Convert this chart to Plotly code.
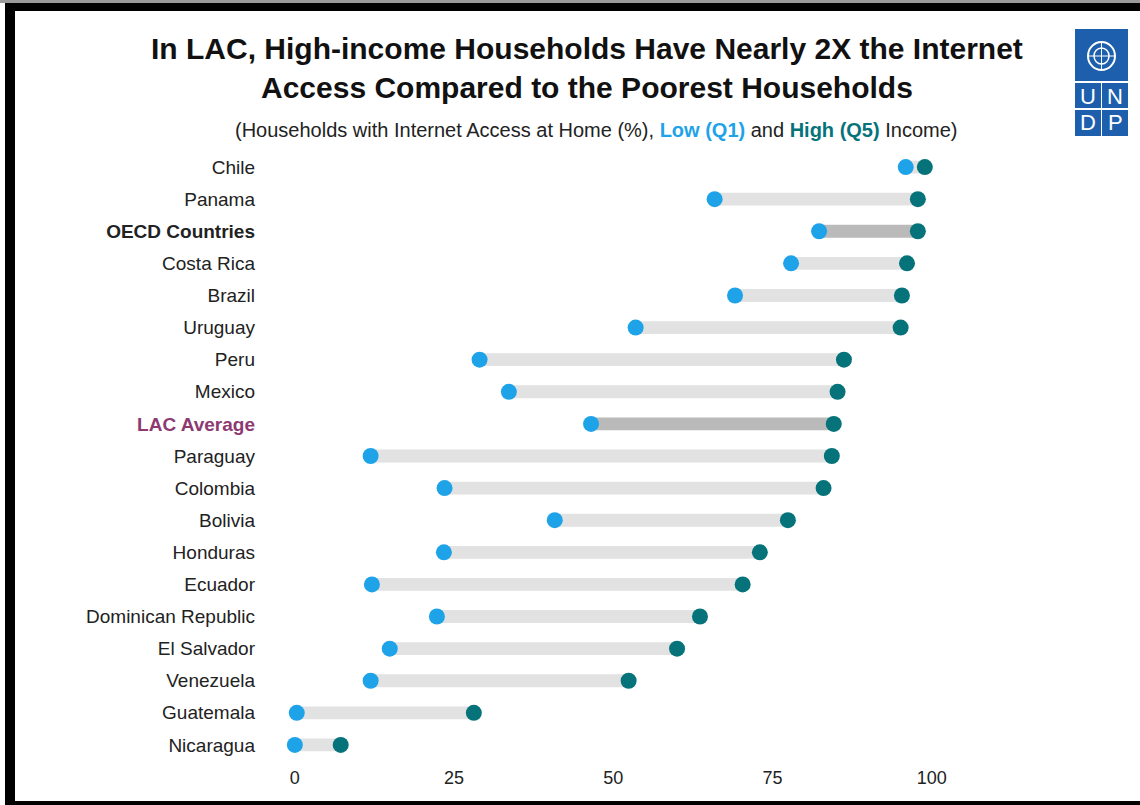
import plotly.graph_objects as go

countries = ["Chile", "Panama", "OECD Countries", "Costa Rica", "Brazil", "Uruguay", "Peru",
             "Mexico", "LAC Average", "Paraguay", "Colombia", "Bolivia", "Honduras", "Ecuador",
             "Dominican Republic", "El Salvador", "Venezuela", "Guatemala", "Nicaragua"]
low_q1 = [95.9, 65.9, 82.3, 77.9, 69.1, 53.5, 29.0, 33.6, 46.5, 11.9, 23.5, 40.8, 23.4, 12.1,
          22.3, 14.9, 11.9, 0.3, 0.0]
high_q5 = [98.9, 97.8, 97.8, 96.1, 95.3, 95.1, 86.2, 85.2, 84.6, 84.3, 83.0, 77.4, 73.0, 70.3,
           63.6, 60.0, 52.4, 28.1, 7.2]
x_ticks = [0, 25, 50, 75, 100]

OFF = 0  # page body margin removed via post_script
W, H = 1140 - OFF, 805 - OFF
ML, MR, MT, MB = 263 - OFF, 40, 151 - OFF, 44
PW, PH = W - ML - MR, H - MT - MB

def px(x):
    return (x - OFF - ML) / PW

def py(y):
    return (H - MB - (y - OFF)) / PH

LOW_C = "#1FA3E8"
HIGH_C = "#06737B"
BAR_C = "#E2E2E2"
BAR_DARK = "#BABABA"
PURPLE = "#8E3A72"

bar_colors = [BAR_DARK if c in ("OECD Countries", "LAC Average") else BAR_C for c in countries]
ticktext = []
for c in countries:
    if c == "OECD Countries":
        ticktext.append("<b>" + c + "</b>")
    elif c == "LAC Average":
        ticktext.append("<b><span style='color:" + PURPLE + "'>" + c + "</span></b>")
    else:
        ticktext.append(c)

fig = go.Figure()
fig.add_trace(go.Bar(
    y=countries, x=[h - l for h, l in zip(high_q5, low_q1)], base=low_q1,
    orientation="h", marker=dict(color=bar_colors, line=dict(width=0)),
    width=0.4, hoverinfo="skip", showlegend=False))
fig.add_trace(go.Scatter(
    y=countries, x=low_q1, mode="markers", name="Low (Q1)",
    marker=dict(color=LOW_C, size=16, line=dict(width=0)), showlegend=False))
fig.add_trace(go.Scatter(
    y=countries, x=high_q5, mode="markers", name="High (Q5)",
    marker=dict(color=HIGH_C, size=16, line=dict(width=0)), showlegend=False))

FONT = "Liberation Sans, Arial, sans-serif"

fig.update_layout(
    width=W, height=H,
    margin=dict(l=ML, r=MR, t=MT, b=MB, pad=0),
    paper_bgcolor="white", plot_bgcolor="white",
    font=dict(family=FONT, size=18, color="#222222"),
    xaxis=dict(range=[-5, -5 + PW / 6.37], tickvals=x_ticks, ticktext=[str(v) for v in x_ticks],
               showgrid=False, zeroline=False, showline=False, ticks="",
               ticklabelstandoff=4,
               tickfont=dict(size=18, color="#222222")),
    yaxis=dict(categoryorder="array", categoryarray=countries, autorange=False,
               range=[len(countries) - 0.5, -0.5], tickvals=countries, ticktext=ticktext,
               showgrid=False, zeroline=False, showline=False, ticks="",
               ticklabelstandoff=7,
               tickfont=dict(size=19, color="#222222")),
    bargap=0.6,
)

annotations = [
    dict(text="<b>In LAC, High-income Households Have Nearly 2X the Internet<br>Access Compared to the Poorest Households</b>",
         x=px(587), y=py(68), xref="paper", yref="paper", xanchor="center", yanchor="middle",
         showarrow=False, font=dict(family=FONT, size=30, color="#111111")),
    dict(text="(Households with Internet Access at Home (%), <b><span style='color:" + LOW_C + "'>Low (Q1)</span></b> and "
              "<b><span style='color:" + HIGH_C + "'>High (Q5)</span></b> Income)",
         x=px(596), y=py(130), xref="paper", yref="paper", xanchor="center", yanchor="middle",
         showarrow=False, font=dict(family=FONT, size=20, color="#222222")),
]

UNDP = "#1D5FAD"
shapes = []
def rect(x0, y0, x1, y1, color):
    shapes.append(dict(type="rect", xref="paper", yref="paper",
                       x0=px(x0), x1=px(x1), y0=py(y1), y1=py(y0),
                       fillcolor=color, line=dict(width=0, color=color), layer="above"))

# frame
rect(0, 0, 1140, 3, "#9A9A9A")
rect(5, 3, 15, 805, "black")
rect(5, 3, 1140, 11, "black")
rect(5, 801, 1140, 805, "black")

# UNDP logo
rect(1075, 29, 1128, 81, UNDP)
rect(1075, 83, 1101, 108, UNDP)
rect(1102, 83, 1128, 108, UNDP)
rect(1075, 110, 1101, 136, UNDP)
rect(1102, 110, 1128, 136, UNDP)
# emblem
shapes.append(dict(type="circle", xref="paper", yref="paper", x0=px(1088), x1=px(1115), y0=py(70), y1=py(42),
                   fillcolor="rgba(0,0,0,0)", line=dict(color="white", width=2), layer="above"))
shapes.append(dict(type="circle", xref="paper", yref="paper", x0=px(1094), x1=px(1109), y0=py(64), y1=py(48),
                   fillcolor="rgba(0,0,0,0)", line=dict(color="white", width=1.5), layer="above"))
shapes.append(dict(type="line", xref="paper", yref="paper", x0=px(1088), x1=px(1115), y0=py(56), y1=py(56),
                   line=dict(color="white", width=1), layer="above"))
shapes.append(dict(type="line", xref="paper", yref="paper", x0=px(1101.5), x1=px(1101.5), y0=py(70), y1=py(42),
                   line=dict(color="white", width=1), layer="above"))
for letter, cx, cy in [("U", 1088, 96), ("N", 1115, 96), ("D", 1088, 123), ("P", 1115, 123)]:
    annotations.append(dict(text=letter, x=px(cx), y=py(cy), xref="paper", yref="paper",
                            xanchor="center", yanchor="middle", showarrow=False,
                            font=dict(family=FONT, size=22, color="white")))

fig.update_layout(annotations=annotations, shapes=shapes)
fig.write_html("out.html", config={"displayModeBar": False},
               post_script="document.body.style.margin='0';document.body.style.overflow='hidden';")
